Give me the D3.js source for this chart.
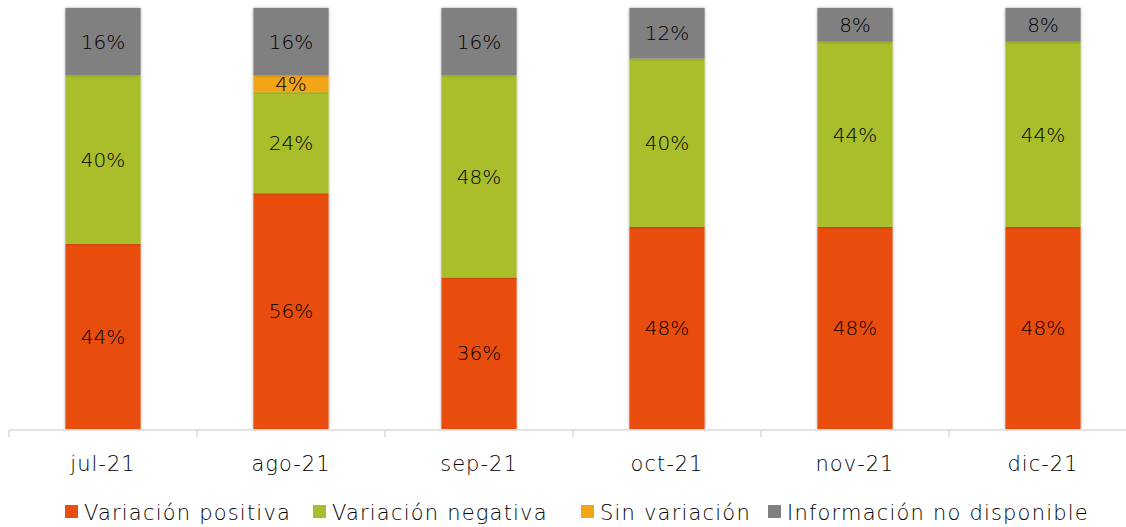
<!DOCTYPE html>
<html><head><meta charset="utf-8">
<script src="https://cdn.jsdelivr.net/npm/d3@7"></script>
<style>body{margin:0;background:#fff}svg{display:block}text{font-family:"DejaVu Sans",sans-serif;font-weight:200}</style>
</head><body><svg id="c" width="1126" height="527"></svg>
<script>
const categories = ["jul-21","ago-21","sep-21","oct-21","nov-21","dic-21"];
const seriesNames = ["Variación positiva","Variación negativa","Sin variación","Información no disponible"];
const positiva = [44,56,36,48,48,48];
const negativa = [40,24,48,40,44,44];
const sinVariacion = [0,4,0,0,0,0];
const noDisponible = [16,16,16,12,8,8];
const colors = ["#E84E10","#AABD2C","#F2A515","#808080"];

const svg = d3.select("#c");
const x = d3.scaleBand().domain(categories).range([9,1137]).paddingInner(0.6).paddingOuter(0.3);
const y = d3.scaleLinear().domain([0,100]).range([429,8]);

const table = categories.map((c,i)=>({cat:c,[seriesNames[0]]:positiva[i],[seriesNames[1]]:negativa[i],[seriesNames[2]]:sinVariacion[i],[seriesNames[3]]:noDisponible[i]}));
const stack = d3.stack().keys(seriesNames)(table);

const defs = svg.append("defs");
const f = defs.append("filter").attr("id","sh").attr("x","-10%").attr("y","-10%").attr("width","120%").attr("height","120%");
f.append("feDropShadow").attr("dx",0).attr("dy",0).attr("stdDeviation",1.5).attr("flood-color","#000").attr("flood-opacity",0.35);

const g = svg.append("g");
stack.forEach((s,si)=>{
  g.selectAll(null).data(s.filter(d=>d[1]-d[0]>0)).enter().append("rect")
    .attr("x",d=>x(d.data.cat)).attr("width",x.bandwidth())
    .attr("y",d=>y(d[1])).attr("height",d=>y(d[0])-y(d[1]))
    .attr("fill",colors[si]).attr("filter","url(#sh)");
});
stack.forEach((s,si)=>{
  g.selectAll(null).data(s.filter(d=>d[1]-d[0]>0)).enter().append("text")
    .attr("x",d=>x(d.data.cat)+x.bandwidth()/2)
    .attr("y",d=>(y(d[0])+y(d[1]))/2)
    .attr("dy","0.36em").attr("text-anchor","middle")
    .attr("font-size",20).attr("fill","#000")
    .text(d=>(d[1]-d[0])+"%");
});

// axis
const ax = svg.append("g");
ax.append("line").attr("x1",9).attr("x2",1137).attr("y1",430).attr("y2",430).attr("stroke","#D9D9D9").attr("stroke-width",1.5);
const tickX = categories.map(c=>x(c)-x.step()*x.paddingInner()/2).concat([x(categories[5])+x.bandwidth()+x.step()*x.paddingInner()/2]);
ax.selectAll(null).data(tickX).enter().append("line")
  .attr("x1",d=>d).attr("x2",d=>d).attr("y1",430).attr("y2",437).attr("stroke","#D9D9D9").attr("stroke-width",1.5);
ax.selectAll(null).data(categories).enter().append("text")
  .attr("x",c=>x(c)+x.bandwidth()/2).attr("y",471).attr("text-anchor","middle")
  .attr("font-size",21).attr("letter-spacing",1).attr("fill","#000").text(c=>c);

// legend
const legX = [65,313,581,768];
const leg = svg.append("g");
seriesNames.forEach((n,i)=>{
  leg.append("rect").attr("x",legX[i]).attr("y",505).attr("width",13).attr("height",13).attr("fill",colors[i]);
  leg.append("text").attr("x",legX[i]+19).attr("y",520).attr("font-size",21).attr("letter-spacing",1.2).attr("fill","#000").text(n);
});
</script></body></html>
